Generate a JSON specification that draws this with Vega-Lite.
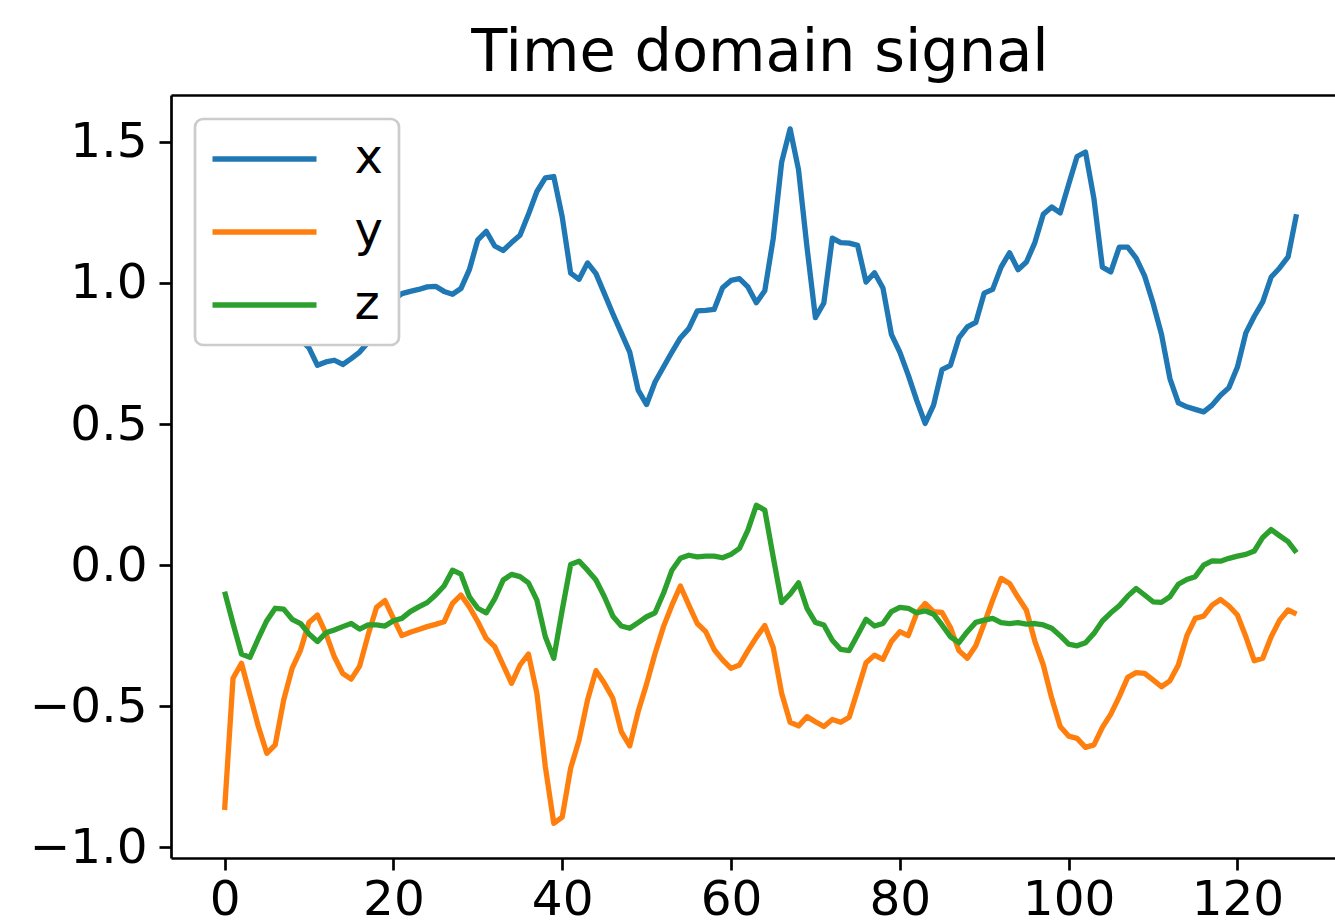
{
  "$schema": "https://vega.github.io/schema/vega-lite/v6.json",
  "width": 1164,
  "height": 763,
  "autosize": {"type": "none"},
  "padding": {"left": 171, "top": 95, "right": 0, "bottom": 65},
  "background": "white",
  "title": {"text": "Time domain signal", "font": "DejaVu Sans", "fontSize": 59, "fontWeight": "normal", "color": "black", "baseline": "alphabetic", "offset": 20, "dx": 7, "dy": 55, "anchor": "middle"},
  "config": {
    "view": {"stroke": null},
    "axis": {"labelFont": "DejaVu Sans", "labelFontSize": 48.5, "labelColor": "black", "tickColor": "black", "tickWidth": 2.7, "tickSize": 12, "domainColor": "black", "domainWidth": 2.7, "grid": false, "title": null},
    "axisBottom": {"labelPadding": 6},
    "axisLeft": {"labelPadding": 12},
    "legend": {"zindex": 1}
  },
  "data": {"values": [
    {"t":0,"x":0.95,"y":-0.868,"z":-0.094},
    {"t":1,"x":0.93,"y":-0.401,"z":-0.207},
    {"t":2,"x":0.96,"y":-0.348,"z":-0.315},
    {"t":3,"x":0.92,"y":-0.460,"z":-0.327},
    {"t":4,"x":0.89,"y":-0.572,"z":-0.260},
    {"t":5,"x":0.93,"y":-0.667,"z":-0.197},
    {"t":6,"x":0.88,"y":-0.637,"z":-0.153},
    {"t":7,"x":0.86,"y":-0.478,"z":-0.156},
    {"t":8,"x":0.83,"y":-0.366,"z":-0.192},
    {"t":9,"x":0.80,"y":-0.301,"z":-0.207},
    {"t":10,"x":0.77,"y":-0.203,"z":-0.244},
    {"t":11,"x":0.708,"y":-0.177,"z":-0.271},
    {"t":12,"x":0.720,"y":-0.242,"z":-0.240},
    {"t":13,"x":0.726,"y":-0.325,"z":-0.230},
    {"t":14,"x":0.711,"y":-0.384,"z":-0.218},
    {"t":15,"x":0.732,"y":-0.404,"z":-0.207},
    {"t":16,"x":0.755,"y":-0.358,"z":-0.227},
    {"t":17,"x":0.79,"y":-0.248,"z":-0.212},
    {"t":18,"x":0.84,"y":-0.150,"z":-0.212},
    {"t":19,"x":0.90,"y":-0.126,"z":-0.216},
    {"t":20,"x":0.94,"y":-0.189,"z":-0.197},
    {"t":21,"x":0.962,"y":-0.250,"z":-0.189},
    {"t":22,"x":0.970,"y":-0.238,"z":-0.165},
    {"t":23,"x":0.977,"y":-0.228,"z":-0.148},
    {"t":24,"x":0.986,"y":-0.218,"z":-0.133},
    {"t":25,"x":0.988,"y":-0.210,"z":-0.106},
    {"t":26,"x":0.970,"y":-0.201,"z":-0.074},
    {"t":27,"x":0.960,"y":-0.136,"z":-0.018},
    {"t":28,"x":0.980,"y":-0.106,"z":-0.032},
    {"t":29,"x":1.047,"y":-0.148,"z":-0.112},
    {"t":30,"x":1.153,"y":-0.201,"z":-0.153},
    {"t":31,"x":1.183,"y":-0.260,"z":-0.169},
    {"t":32,"x":1.131,"y":-0.289,"z":-0.120},
    {"t":33,"x":1.115,"y":-0.354,"z":-0.053},
    {"t":34,"x":1.143,"y":-0.419,"z":-0.033},
    {"t":35,"x":1.169,"y":-0.354,"z":-0.041},
    {"t":36,"x":1.243,"y":-0.315,"z":-0.063},
    {"t":37,"x":1.324,"y":-0.454,"z":-0.124},
    {"t":38,"x":1.372,"y":-0.714,"z":-0.254},
    {"t":39,"x":1.377,"y":-0.915,"z":-0.330},
    {"t":40,"x":1.234,"y":-0.893,"z":-0.159},
    {"t":41,"x":1.035,"y":-0.720,"z":0.002},
    {"t":42,"x":1.013,"y":-0.620,"z":0.014},
    {"t":43,"x":1.071,"y":-0.478,"z":-0.018},
    {"t":44,"x":1.033,"y":-0.374,"z":-0.053},
    {"t":45,"x":0.962,"y":-0.419,"z":-0.112},
    {"t":46,"x":0.891,"y":-0.472,"z":-0.181},
    {"t":47,"x":0.823,"y":-0.590,"z":-0.216},
    {"t":48,"x":0.755,"y":-0.641,"z":-0.224},
    {"t":49,"x":0.620,"y":-0.519,"z":-0.204},
    {"t":50,"x":0.569,"y":-0.421,"z":-0.183},
    {"t":51,"x":0.649,"y":-0.313,"z":-0.169},
    {"t":52,"x":0.702,"y":-0.218,"z":-0.100},
    {"t":53,"x":0.755,"y":-0.142,"z":-0.018},
    {"t":54,"x":0.805,"y":-0.074,"z":0.024},
    {"t":55,"x":0.838,"y":-0.142,"z":0.035},
    {"t":56,"x":0.901,"y":-0.207,"z":0.029},
    {"t":57,"x":0.903,"y":-0.236,"z":0.032},
    {"t":58,"x":0.906,"y":-0.299,"z":0.032},
    {"t":59,"x":0.983,"y":-0.336,"z":0.026},
    {"t":60,"x":1.009,"y":-0.366,"z":0.038},
    {"t":61,"x":1.015,"y":-0.354,"z":0.059},
    {"t":62,"x":0.986,"y":-0.303,"z":0.124},
    {"t":63,"x":0.930,"y":-0.256,"z":0.212},
    {"t":64,"x":0.972,"y":-0.214,"z":0.195},
    {"t":65,"x":1.157,"y":-0.292,"z":0.029},
    {"t":66,"x":1.428,"y":-0.454,"z":-0.133},
    {"t":67,"x":1.546,"y":-0.557,"z":-0.103},
    {"t":68,"x":1.401,"y":-0.570,"z":-0.063},
    {"t":69,"x":1.127,"y":-0.537,"z":-0.153},
    {"t":70,"x":0.877,"y":-0.555,"z":-0.203},
    {"t":71,"x":0.929,"y":-0.572,"z":-0.212},
    {"t":72,"x":1.159,"y":-0.547,"z":-0.266},
    {"t":73,"x":1.143,"y":-0.557,"z":-0.299},
    {"t":74,"x":1.141,"y":-0.539,"z":-0.303},
    {"t":75,"x":1.133,"y":-0.443,"z":-0.248},
    {"t":76,"x":1.003,"y":-0.346,"z":-0.192},
    {"t":77,"x":1.036,"y":-0.319,"z":-0.216},
    {"t":78,"x":0.982,"y":-0.334,"z":-0.207},
    {"t":79,"x":0.818,"y":-0.271,"z":-0.165},
    {"t":80,"x":0.755,"y":-0.236,"z":-0.150},
    {"t":81,"x":0.673,"y":-0.250,"z":-0.153},
    {"t":82,"x":0.584,"y":-0.171,"z":-0.169},
    {"t":83,"x":0.502,"y":-0.136,"z":-0.162},
    {"t":84,"x":0.567,"y":-0.165,"z":-0.174},
    {"t":85,"x":0.693,"y":-0.168,"z":-0.212},
    {"t":86,"x":0.708,"y":-0.221,"z":-0.254},
    {"t":87,"x":0.805,"y":-0.303,"z":-0.275},
    {"t":88,"x":0.844,"y":-0.330,"z":-0.236},
    {"t":89,"x":0.860,"y":-0.286,"z":-0.203},
    {"t":90,"x":0.964,"y":-0.207,"z":-0.195},
    {"t":91,"x":0.977,"y":-0.124,"z":-0.189},
    {"t":92,"x":1.056,"y":-0.047,"z":-0.204},
    {"t":93,"x":1.107,"y":-0.065,"z":-0.207},
    {"t":94,"x":1.047,"y":-0.114,"z":-0.204},
    {"t":95,"x":1.074,"y":-0.160,"z":-0.209},
    {"t":96,"x":1.143,"y":-0.270,"z":-0.207},
    {"t":97,"x":1.243,"y":-0.354,"z":-0.212},
    {"t":98,"x":1.269,"y":-0.472,"z":-0.224},
    {"t":99,"x":1.248,"y":-0.572,"z":-0.250},
    {"t":100,"x":1.349,"y":-0.606,"z":-0.280},
    {"t":101,"x":1.448,"y":-0.614,"z":-0.286},
    {"t":102,"x":1.464,"y":-0.646,"z":-0.275},
    {"t":103,"x":1.298,"y":-0.637,"z":-0.242},
    {"t":104,"x":1.056,"y":-0.575,"z":-0.198},
    {"t":105,"x":1.039,"y":-0.528,"z":-0.169},
    {"t":106,"x":1.127,"y":-0.466,"z":-0.144},
    {"t":107,"x":1.127,"y":-0.398,"z":-0.110},
    {"t":108,"x":1.088,"y":-0.381,"z":-0.083},
    {"t":109,"x":1.025,"y":-0.384,"z":-0.106},
    {"t":110,"x":0.929,"y":-0.407,"z":-0.130},
    {"t":111,"x":0.818,"y":-0.431,"z":-0.132},
    {"t":112,"x":0.661,"y":-0.410,"z":-0.112},
    {"t":113,"x":0.575,"y":-0.354,"z":-0.068},
    {"t":114,"x":0.561,"y":-0.251,"z":-0.051},
    {"t":115,"x":0.552,"y":-0.189,"z":-0.041},
    {"t":116,"x":0.543,"y":-0.181,"z":0.000},
    {"t":117,"x":0.567,"y":-0.142,"z":0.015},
    {"t":118,"x":0.602,"y":-0.122,"z":0.014},
    {"t":119,"x":0.629,"y":-0.145,"z":0.024},
    {"t":120,"x":0.702,"y":-0.177,"z":0.032},
    {"t":121,"x":0.823,"y":-0.254,"z":0.038},
    {"t":122,"x":0.882,"y":-0.339,"z":0.050},
    {"t":123,"x":0.933,"y":-0.330,"z":0.098},
    {"t":124,"x":1.021,"y":-0.254,"z":0.126},
    {"t":125,"x":1.053,"y":-0.195,"z":0.104},
    {"t":126,"x":1.092,"y":-0.159,"z":0.083},
    {"t":127,"x":1.243,"y":-0.174,"z":0.044}
  ]},
  "transform": [{"fold": ["x", "y", "z"], "as": ["series", "value"]}],
  "layer": [
    {
      "mark": {"type": "line", "strokeWidth": 5.3, "strokeJoin": "round", "clip": true},
      "encoding": {
        "x": {"field": "t", "type": "quantitative", "scale": {"domain": [-6.35, 131.56], "nice": false, "zero": false}, "axis": {"orient": "bottom", "values": [0, 20, 40, 60, 80, 100, 120], "title": null}},
        "y": {"field": "value", "type": "quantitative", "scale": {"domain": [-1.038, 1.666], "nice": false, "zero": false}, "axis": {"orient": "left", "values": [-1, -0.5, 0, 0.5, 1, 1.5], "format": ".1f", "labelExpr": "replace(datum.label, '-', '−')", "title": null}},
        "color": {
          "field": "series", "type": "nominal",
          "scale": {"domain": ["x", "y", "z"], "range": ["#1f77b4", "#ff7f0e", "#2ca02c"]},
          "legend": {"title": null, "orient": "top-left", "offset": 24, "symbolType": "M-4,0L4,0", "symbolSize": 676, "symbolStrokeWidth": 5.3, "symbolOffset": 29.5, "labelOffset": 66, "labelFont": "DejaVu Sans", "labelFontSize": 48, "labelColor": "black", "rowPadding": 25, "padding": 16, "fillColor": "white", "strokeColor": "#cccccc", "cornerRadius": 8,
            "encode": {"legend": {"update": {"strokeWidth": {"value": 2.7}}}}}
        }
      }
    },
    {
      "mark": {"type": "line", "opacity": 0},
      "encoding": {
        "x": {"field": "t", "type": "quantitative", "axis": {"orient": "top", "labels": false, "ticks": false, "domain": true, "title": null}},
        "y": {"field": "value", "type": "quantitative", "axis": null},
        "detail": {"field": "series", "type": "nominal"}
      }
    }
  ],
  "resolve": {"axis": {"x": "independent", "y": "independent"}}
}
